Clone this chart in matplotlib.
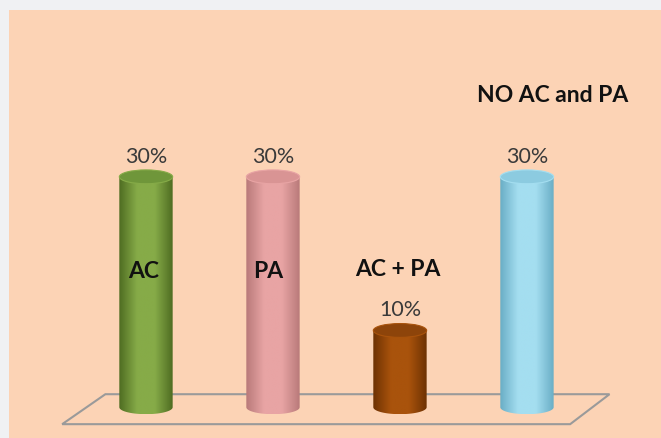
import numpy as np
import matplotlib.pyplot as plt
from matplotlib.patches import Ellipse, Polygon, Rectangle, PathPatch
from matplotlib.path import Path
from matplotlib.colors import LinearSegmentedColormap

# data
categories = ['AC', 'PA', 'AC + PA', 'NO AC and PA']
values = [30, 30, 10, 30]
value_labels = ['30%', '30%', '10%', '30%']

# style
edge_cols = ['#4f6d22', '#b97a7a', '#6e3203', '#6aaec6']
mid_cols = ['#86ab48', '#e8a4a4', '#a9530c', '#a4def0']
top_cols = ['#6f963a', '#d99494', '#8d440a', '#8ccbe0']
name_pos = [(-0.02, 17.7), (0.96, 17.7), (1.98, 17.9), (3.2, 40.6)]

plt.rcParams['font.family'] = ['Lato', 'DejaVu Sans']

fig = plt.figure(figsize=(6.61, 4.38), dpi=100)
fig.patch.set_facecolor('#f0f1f3')
fig.add_artist(Rectangle((9 / 661, 0), 1, 1 - 10 / 438, transform=fig.transFigure,
                         facecolor='#fcd3b5', edgecolor='none', zorder=0))

ax = fig.add_axes([0.1248, 0.0, 0.7685, 0.7717])
ax.set_xlim(-0.5, 3.5)
ax.set_ylim(-4, 40)
ax.axis('off')

# floor
floor = Polygon([(-0.32, 1.7), (3.65, 1.7), (3.34, -2.2), (-0.66, -2.2)], closed=True,
                facecolor='none', edgecolor='#9a9a9a', lw=1.5, zorder=1, clip_on=False)
ax.add_patch(floor)

w = 0.42
eh = 1.8
t = np.linspace(np.pi, 2 * np.pi, 40)
for i, v in enumerate(values):
    x0 = i
    # body outline: bottom half-ellipse + rectangle
    bx = x0 + w / 2 * np.cos(t)
    by = eh / 2 * np.sin(t)
    verts = list(zip(bx, by)) + [(x0 + w / 2, v), (x0 - w / 2, v), (x0 - w / 2, 0)]
    path = Path(verts, closed=False)
    clip = PathPatch(path, transform=ax.transData, facecolor='none', edgecolor='none')
    ax.add_patch(clip)
    cmap = LinearSegmentedColormap.from_list(
        'c%d' % i, [edge_cols[i], mid_cols[i], mid_cols[i], edge_cols[i]])
    grad = np.linspace(0, 1, 100).reshape(1, -1)
    im = ax.imshow(grad, cmap=cmap, extent=[x0 - w / 2, x0 + w / 2, -eh / 2, v],
                   aspect='auto', interpolation='bilinear', zorder=2)
    im.set_clip_path(clip)
    top = Ellipse((x0, v), w, eh, facecolor=top_cols[i], edgecolor=mid_cols[i],
                  lw=0.8, zorder=3)
    ax.add_patch(top)
    ax.text(x0, v + 2.6, value_labels[i], ha='center', va='center',
            fontsize=15.5, color='#3a3a3a')
    nx, ny = name_pos[i]
    ax.text(nx, ny, categories[i], ha='center', va='center', fontsize=16.5,
            fontweight='bold', color='#111111', zorder=4, clip_on=False)

ax.set_xlim(-0.5, 3.5)
ax.set_ylim(-4, 40)

fig.savefig('out.png', dpi=100, facecolor=fig.get_facecolor())
